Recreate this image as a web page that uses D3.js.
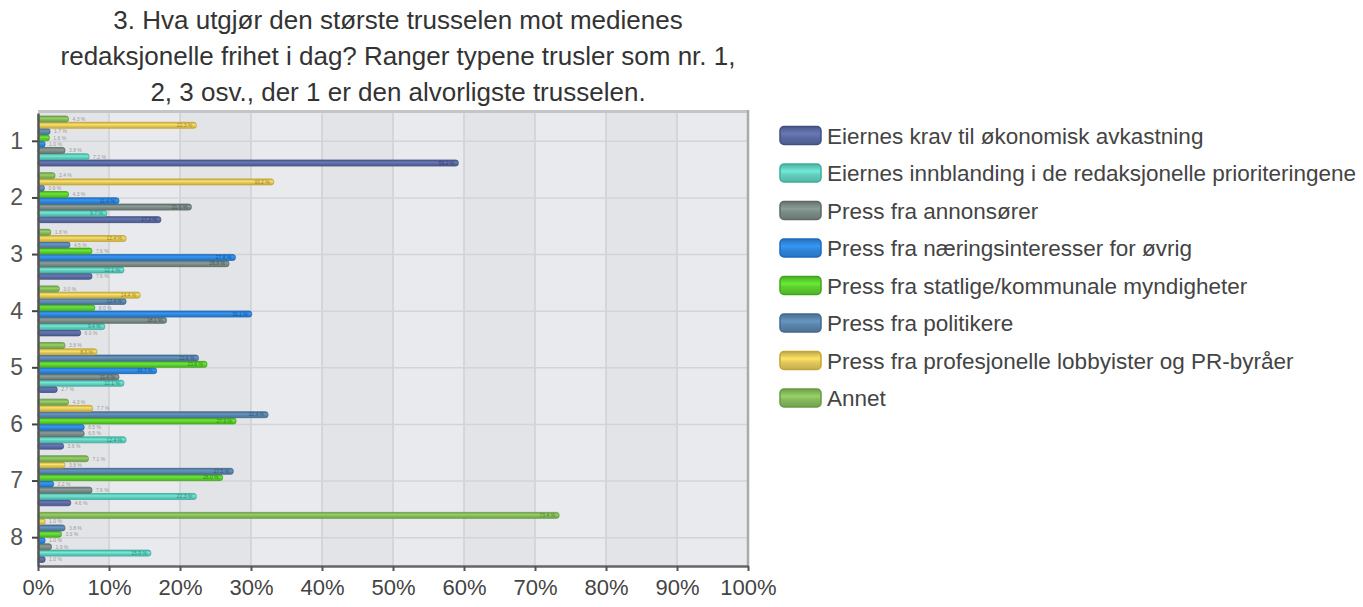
<!DOCTYPE html>
<html>
<head>
<meta charset="utf-8">
<script src="https://cdn.jsdelivr.net/npm/d3@7"></script>
<style>
  body { margin: 0; background: #fff; }
  text { font-family: "Liberation Sans", Arial, sans-serif; }
</style>
</head>
<body>
<div id="chart"></div>
<script>
(function(){
    // data ---------------------------------------------------------------
    var titleLines = [
        '3. Hva utgjør den største trusselen mot medienes',
        'redaksjonelle frihet i dag? Ranger typene trusler som nr. 1,',
        '2, 3 osv., der 1 er den alvorligste trusselen.'
    ];
    var ranks = ['1', '2', '3', '4', '5', '6', '7', '8'];
    var seriesNames = [
        'Eiernes krav til økonomisk avkastning',
        'Eiernes innblanding i de redaksjonelle prioriteringene',
        'Press fra annonsører',
        'Press fra næringsinteresser for øvrig',
        'Press fra statlige/kommunale myndigheter',
        'Press fra politikere',
        'Press fra profesjonelle lobbyister og PR-byråer',
        'Annet'
    ];
    // percent per rank 1..8
    var eiernesKrav   = [59.2, 17.3, 7.6, 6.0, 2.7, 3.6, 4.6, 1.0];
    var innblanding   = [7.2, 9.7, 12.1, 9.4, 12.1, 12.4, 22.3, 15.9];
    var annonsorer    = [3.8, 21.6, 26.9, 18.1, 11.4, 6.5, 7.6, 1.9];
    var naering       = [1.0, 11.4, 27.8, 30.1, 16.7, 6.5, 2.2, 1.0];
    var statlige      = [1.6, 4.3, 7.6, 8.0, 23.8, 27.9, 26.0, 3.3];
    var politikere    = [1.7, 0.9, 4.5, 12.4, 22.6, 32.4, 27.5, 3.8];
    var lobbyister    = [22.3, 33.2, 12.4, 14.4, 8.3, 7.7, 3.8, 1.0];
    var annet         = [4.3, 2.4, 1.8, 3.0, 3.8, 4.3, 7.1, 73.4];
    var seriesValues = [eiernesKrav, innblanding, annonsorer, naering, statlige, politikere, lobbyister, annet];
    var xTicks = [0, 10, 20, 30, 40, 50, 60, 70, 80, 90, 100];

    var fills   = ['#5b6aa1', '#63cfbf', '#7b8b86', '#2f86da', '#5ccf2e', '#5a85ac', '#e2c85a', '#85ba5b'];
    var strokes = ['#414f84', '#3aae9d', '#5b6a66', '#1d69bd', '#3fa61c', '#426a8e', '#c4a535', '#679a42'];

    // layout -------------------------------------------------------------
    var WIDTH = 1363, HEIGHT = 607;
    var PL = 38, PR = 748, PT = 113, PB = 566;

    var svg = d3.select('#chart').append('svg')
        .attr('width', WIDTH).attr('height', HEIGHT);

    var defs = svg.append('defs');
    fills.forEach(function(c, i){
        var g = defs.append('linearGradient').attr('id', 'grad' + i)
            .attr('x1', 0).attr('x2', 0).attr('y1', 0).attr('y2', 1);
        g.append('stop').attr('offset', '0%').attr('stop-color', d3.color(c).darker(0.5));
        g.append('stop').attr('offset', '40%').attr('stop-color', d3.color(c).brighter(0.35));
        g.append('stop').attr('offset', '60%').attr('stop-color', c);
        g.append('stop').attr('offset', '100%').attr('stop-color', d3.color(c).darker(0.4));
    });

    var x = d3.scaleLinear().domain([0, 100]).range([PL, PR]);
    var y = d3.scaleBand().domain(ranks).range([PT, PB]);
    // Annet on top of each group, first series at the bottom
    var inner = d3.scaleBand().domain(d3.range(seriesNames.length).reverse())
        .range([3, 53]).paddingInner(0.05);

    // title
    svg.append('g').selectAll('text')
        .data(titleLines)
        .enter().append('text')
        .attr('x', 398)
        .attr('y', function(d, i){ return 29 + i * 36; })
        .attr('text-anchor', 'middle')
        .attr('font-size', 26)
        .attr('fill', '#333')
        .text(function(d){ return d; });

    // plot background with alternating columns
    var bg = svg.append('g');
    bg.selectAll('rect')
        .data(xTicks.slice(0, -1))
        .enter().append('rect')
        .attr('x', function(d){ return x(d); })
        .attr('y', PT)
        .attr('width', x(10) - x(0))
        .attr('height', PB - PT)
        .attr('fill', function(d, i){ return i % 2 ? '#e8eaed' : '#e3e4e7'; });

    // grid lines
    bg.selectAll('line.vg')
        .data(xTicks.slice(1, -1))
        .enter().append('line').attr('class', 'vg')
        .attr('x1', function(d){ return x(d); }).attr('x2', function(d){ return x(d); })
        .attr('y1', PT).attr('y2', PB)
        .attr('stroke', '#cfd0d2').attr('stroke-width', 1.5);
    bg.selectAll('line.hg')
        .data(ranks)
        .enter().append('line').attr('class', 'hg')
        .attr('x1', PL).attr('x2', PR)
        .attr('y1', function(d){ return y(d) + y.bandwidth() / 2; })
        .attr('y2', function(d){ return y(d) + y.bandwidth() / 2; })
        .attr('stroke', '#d3d4d6').attr('stroke-width', 1.5);

    // top and right frame
    bg.append('line').attr('x1', PL).attr('x2', PR + 1).attr('y1', PT - 1.5).attr('y2', PT - 1.5)
        .attr('stroke', '#c4c5c7').attr('stroke-width', 3);
    bg.append('line').attr('x1', PR).attr('x2', PR).attr('y1', PT - 3).attr('y2', PB)
        .attr('stroke', '#a9aaac').attr('stroke-width', 2.5);

    // bars
    var data = [];
    ranks.forEach(function(r, ri){
        seriesValues.forEach(function(vals, si){
            data.push({ rank: r, s: si, v: vals[ri] });
        });
    });

    var bars = svg.append('g').attr('class', 'bars');
    bars.selectAll('rect')
        .data(data)
        .enter().append('rect')
        .attr('x', x(0))
        .attr('y', function(d){ return y(d.rank) + inner(d.s); })
        .attr('width', function(d){ return Math.max(x(d.v) - x(0), 3); })
        .attr('height', inner.bandwidth())
        .attr('rx', 2.5)
        .attr('fill', function(d){ return 'url(#grad' + d.s + ')'; })
        .attr('stroke', function(d){ return strokes[d.s]; })
        .attr('stroke-width', 0.8);

    // tiny value labels
    bars.selectAll('text')
        .data(data)
        .enter().append('text')
        .attr('x', function(d){ return d.v > 8 ? x(d.v) - 4 : x(d.v) + 4; })
        .attr('y', function(d){ return y(d.rank) + inner(d.s) + inner.bandwidth() / 2 + 1.8; })
        .attr('text-anchor', function(d){ return d.v > 8 ? 'end' : 'start'; })
        .attr('font-size', 5)
        .attr('fill', function(d){ return d.v > 8 ? d3.color(strokes[d.s]).darker(0.6) : '#9a9a9a'; })
        .text(function(d){ return d3.format('.1f')(d.v) + ' %'; });

    // axes
    var xAxis = svg.append('g').attr('transform', 'translate(0,' + PB + ')')
        .call(d3.axisBottom(x).tickValues(xTicks).tickFormat(function(d){ return d + '%'; })
            .tickSize(5).tickSizeOuter(0).tickPadding(8));
    xAxis.select('.domain').attr('stroke', '#666').attr('stroke-width', 2.5);
    xAxis.selectAll('.tick line').attr('stroke', '#555').attr('stroke-width', 2);
    xAxis.selectAll('text').attr('font-size', 22).attr('fill', '#444')
        .attr('font-family', '"Liberation Sans", Arial, sans-serif');

    var yAxis = svg.append('g').attr('transform', 'translate(' + PL + ',0)')
        .call(d3.axisLeft(y).tickSize(6).tickSizeOuter(0).tickPadding(9));
    yAxis.select('.domain').attr('stroke', '#555').attr('stroke-width', 2.5);
    yAxis.selectAll('.tick line').attr('stroke', '#444').attr('stroke-width', 2);
    yAxis.selectAll('text').attr('font-size', 23).attr('fill', '#555')
        .attr('font-family', '"Liberation Sans", Arial, sans-serif');

    // legend
    var legend = svg.append('g').attr('transform', 'translate(780,0)');
    var items = legend.selectAll('g')
        .data(seriesNames)
        .enter().append('g')
        .attr('transform', function(d, i){ return 'translate(0,' + (135.5 + i * 37.5) + ')'; });
    items.append('rect')
        .attr('x', 0).attr('y', -9)
        .attr('width', 41).attr('height', 18)
        .attr('rx', 4)
        .attr('fill', function(d, i){ return 'url(#grad' + i + ')'; })
        .attr('stroke', function(d, i){ return strokes[i]; })
        .attr('stroke-width', 1.5);
    items.append('text')
        .attr('x', 47).attr('y', 8)
        .attr('font-size', 22.5)
        .attr('fill', '#444')
        .text(function(d){ return d; });
})();
</script>
</body>
</html>
